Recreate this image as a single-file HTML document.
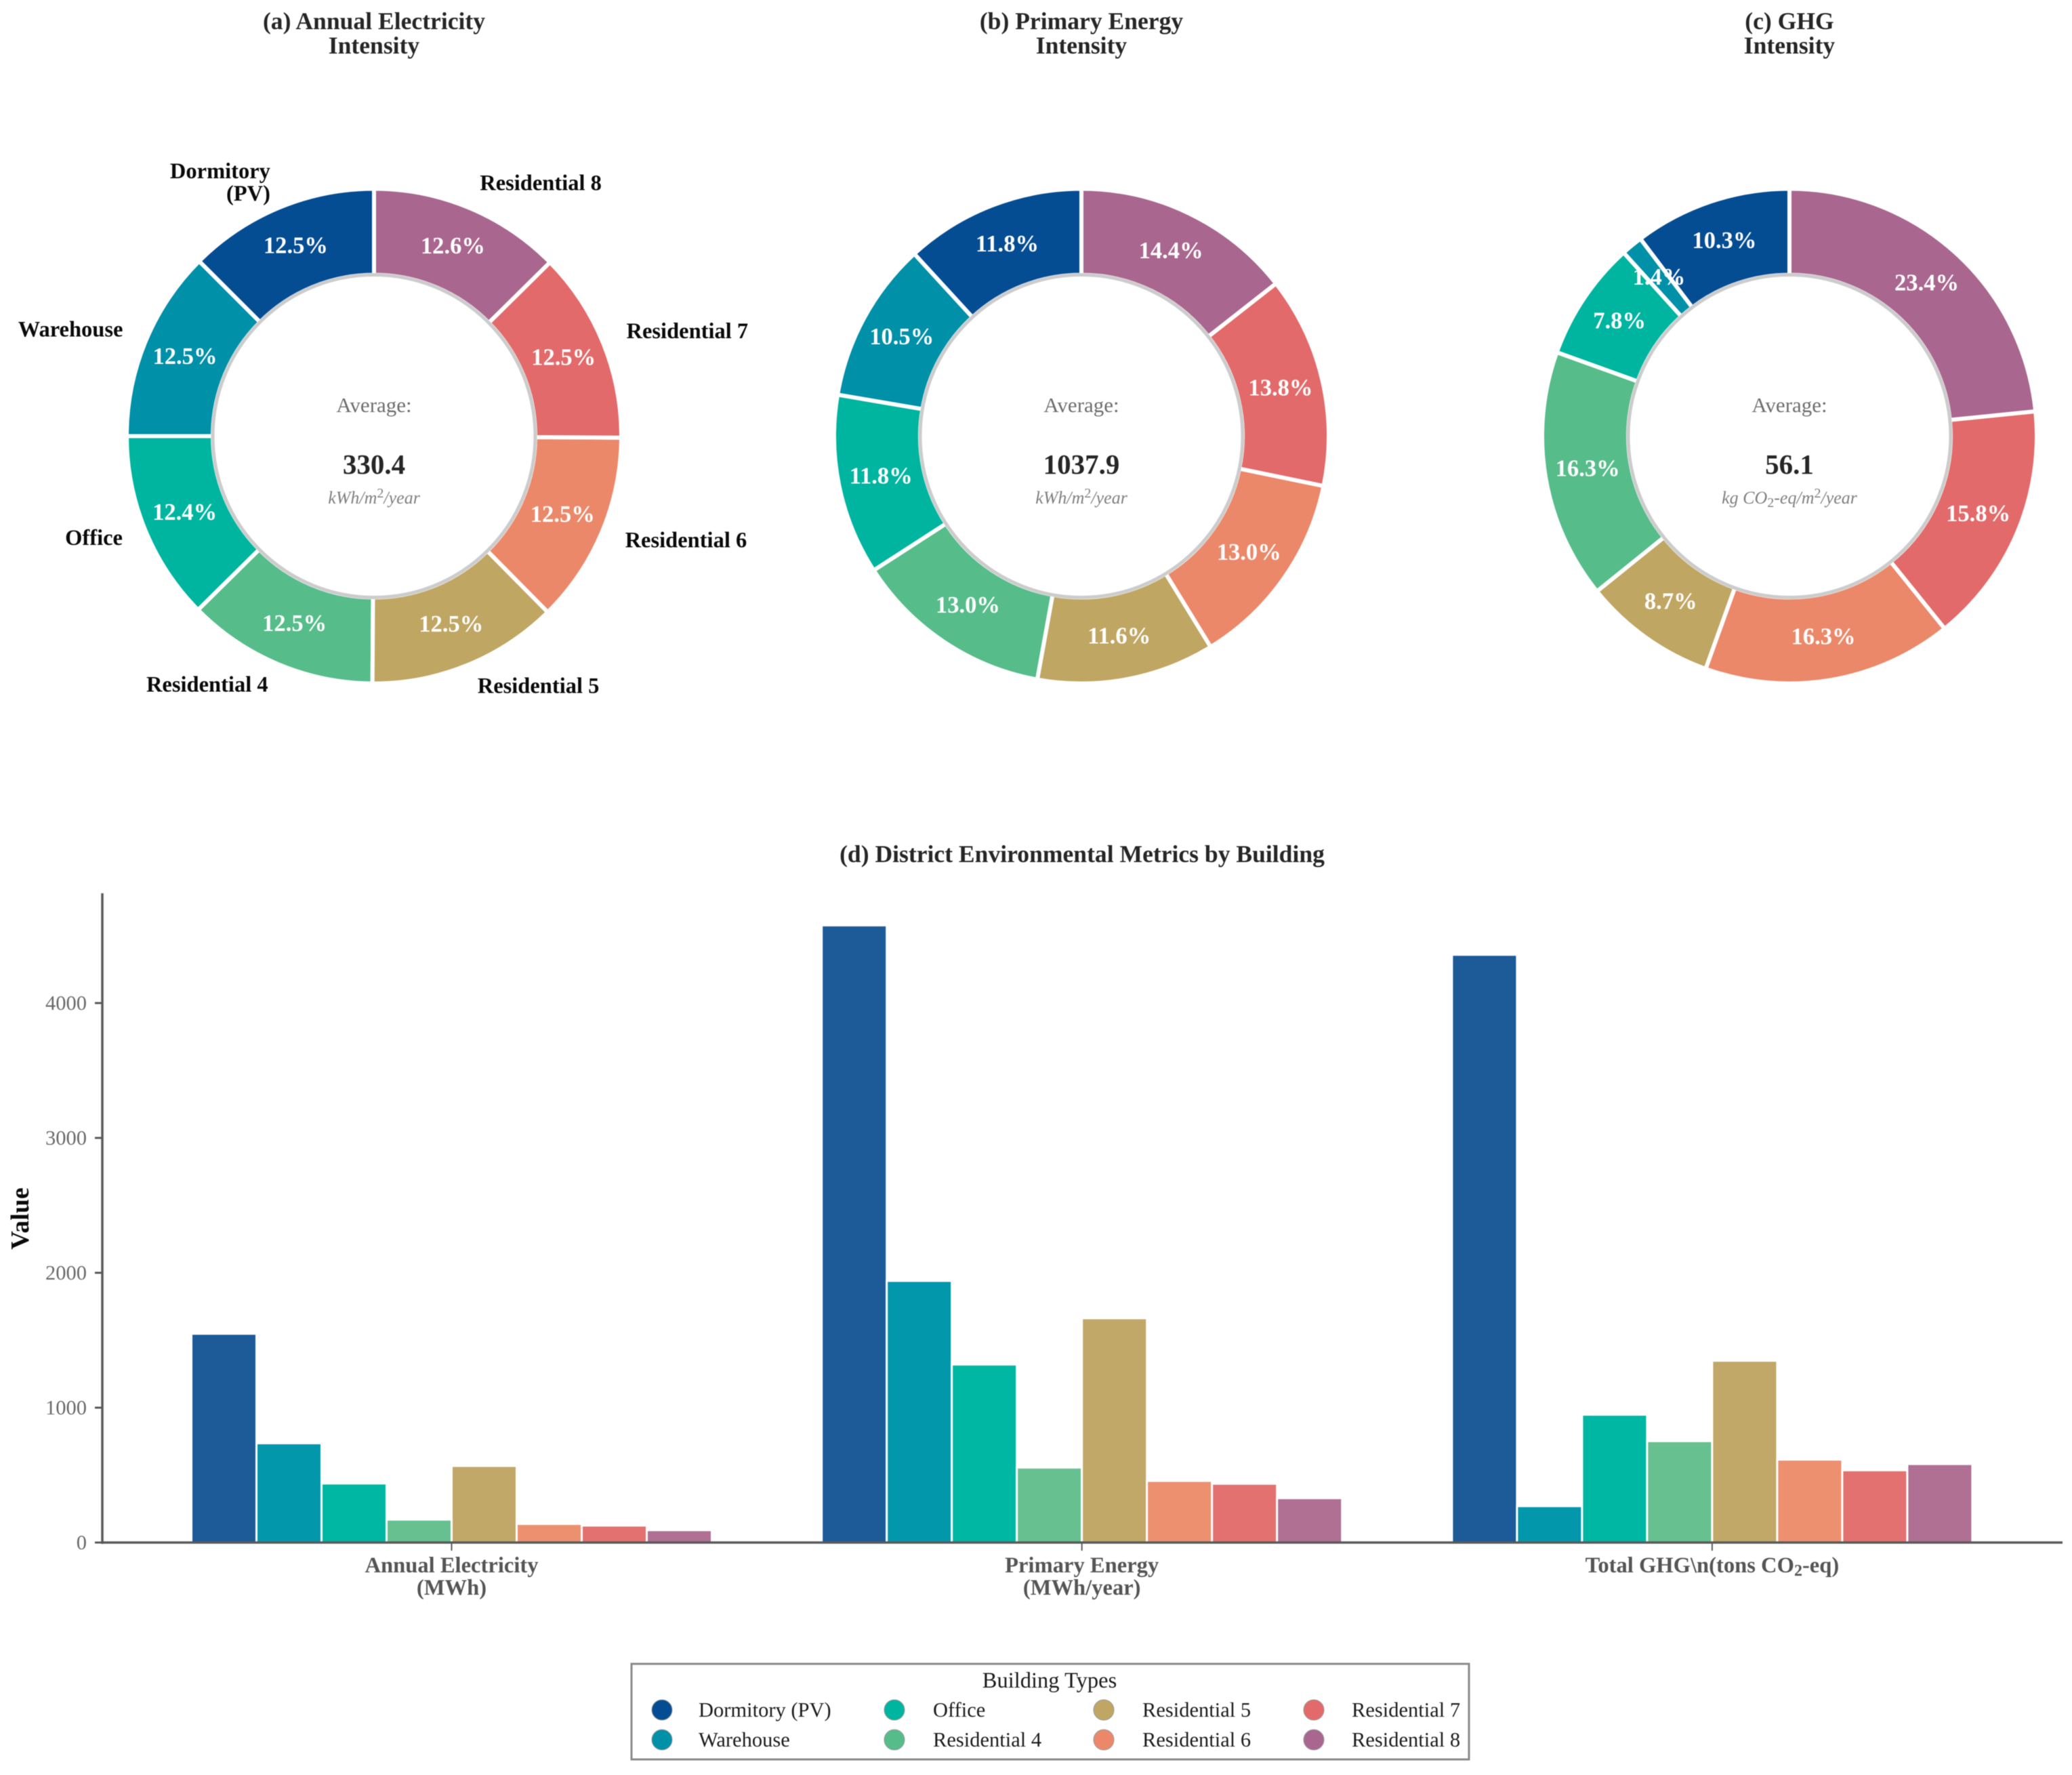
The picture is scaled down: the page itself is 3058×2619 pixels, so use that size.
<!DOCTYPE html>
<html lang="en">
<head>
<meta charset="utf-8">
<title>District Energy and Environmental Metrics</title>
<style>
html,body{margin:0;padding:0;background:#fff;}
svg{display:block;filter:blur(0.6px);}
text{font-family:"Liberation Serif","Times New Roman",serif;}
.panel-title{font-size:35.6px;font-weight:bold;fill:#262626;text-anchor:middle;}
.outer-label{font-size:32.5px;font-weight:bold;fill:#0a0a0a;dominant-baseline:central;}
.pct{font-size:34.6px;font-weight:bold;fill:#fff;text-anchor:middle;dominant-baseline:central;}
.avg-label{font-size:31px;fill:#6e6e6e;text-anchor:middle;}
.avg-value{font-size:41px;font-weight:bold;fill:#262626;text-anchor:middle;}
.avg-unit{font-size:26px;font-style:italic;fill:#808080;text-anchor:middle;}
.y-tick{font-size:30.5px;fill:#6a6a6a;text-anchor:end;dominant-baseline:central;}
.x-tick{font-size:32.6px;font-weight:bold;fill:#555;text-anchor:middle;}
.legend-text{font-size:30.5px;fill:#1c1c1c;dominant-baseline:central;}
</style>
</head>
<body>
<svg id="chart" xmlns="http://www.w3.org/2000/svg" width="3058" height="2619" viewBox="0 0 3058 2619">
  <rect width="3058" height="2619" fill="#ffffff"/>

  <text class="panel-title" x="552" y="43">(a) Annual Electricity<tspan x="552" dy="36">Intensity</tspan></text>
  <text class="panel-title" x="1596" y="43">(b) Primary Energy<tspan x="1596" dy="36">Intensity</tspan></text>
  <text class="panel-title" x="2641" y="43">(c) GHG<tspan x="2641" dy="36">Intensity</tspan></text>

  <g id="donuts"></g>

  <text class="panel-title" x="1597" y="1272">(d) District Environmental Metrics by Building</text>
  <text transform="translate(42,1798) rotate(-90)" text-anchor="middle" font-size="38" font-weight="bold" fill="#0a0a0a">Value</text>

  <g id="bars"></g>

  <g>
    <rect x="932" y="2455" width="1236" height="141" fill="#ffffff" stroke="#8a8a8a" stroke-width="3"/>
    <text x="1549" y="2480" text-anchor="middle" dominant-baseline="central" font-size="32.5" fill="#1c1c1c">Building Types</text>
    <g><circle cx="977" cy="2523" r="15" fill="#054d93" stroke="#999" stroke-width="1"/><text class="legend-text" x="1031" y="2523">Dormitory (PV)</text></g>
    <g><circle cx="977" cy="2567" r="15" fill="#0090a8" stroke="#999" stroke-width="1"/><text class="legend-text" x="1031" y="2567">Warehouse</text></g>
    <g><circle cx="1320" cy="2523" r="15" fill="#00b5a0" stroke="#999" stroke-width="1"/><text class="legend-text" x="1377" y="2523">Office</text></g>
    <g><circle cx="1320" cy="2567" r="15" fill="#56bc8a" stroke="#999" stroke-width="1"/><text class="legend-text" x="1377" y="2567">Residential 4</text></g>
    <g><circle cx="1629" cy="2523" r="15" fill="#c0a663" stroke="#999" stroke-width="1"/><text class="legend-text" x="1686" y="2523">Residential 5</text></g>
    <g><circle cx="1629" cy="2567" r="15" fill="#eb8869" stroke="#999" stroke-width="1"/><text class="legend-text" x="1686" y="2567">Residential 6</text></g>
    <g><circle cx="1939" cy="2523" r="15" fill="#e26a6a" stroke="#999" stroke-width="1"/><text class="legend-text" x="1995" y="2523">Residential 7</text></g>
    <g><circle cx="1939" cy="2567" r="15" fill="#a9678f" stroke="#999" stroke-width="1"/><text class="legend-text" x="1995" y="2567">Residential 8</text></g>
  </g>
</svg>

<script>
// ---------- data ----------
const buildings = ['Dormitory (PV)', 'Warehouse', 'Office', 'Residential 4', 'Residential 5', 'Residential 6', 'Residential 7', 'Residential 8'];
const sliceColors = ['#054d93', '#0090a8', '#00b5a0', '#56bc8a', '#c0a663', '#eb8869', '#e26a6a', '#a9678f'];

const electricityShare = [12.5, 12.5, 12.4, 12.5, 12.5, 12.5, 12.5, 12.6];
const primaryEnergyShare = [11.8, 10.5, 11.8, 13.0, 11.6, 13.0, 13.8, 14.4];
const ghgShare = [10.3, 1.4, 7.8, 16.3, 8.7, 16.3, 15.8, 23.4];

const averageValues = ['330.4', '1037.9', '56.1'];

const metricCategories = ['Annual Electricity (MWh)', 'Primary Energy (MWh/year)', 'Total GHG (tons CO2-eq)'];
const electricityMWh = [1548, 736, 438, 170, 568, 138, 126, 92];
const primaryEnergyMWh = [4576, 1940, 1320, 556, 1663, 457, 436, 329];
const ghgTons = [4358, 270, 948, 752, 1348, 615, 536, 582];

const yTickValues = [0, 1000, 2000, 3000, 4000];

// ---------- helpers ----------
const NS = 'http://www.w3.org/2000/svg';
function make(tag, parent) {
  const el = document.createElementNS(NS, tag);
  parent.appendChild(el);
  return el;
}
function polar(cx, cy, r, deg) {
  const a = deg * Math.PI / 180;
  return [cx - r * Math.sin(a), cy - r * Math.cos(a)];
}

// ---------- donuts ----------
const donutsLayer = document.getElementById('donuts');
const donutCy = 643.5;
const donutOuter = 365;
const donutInner = 238;
const donutLabelR = 302;
const donutNameR = 400;

function drawDonut(cx, shares, showNames) {
  const total = shares.reduce((a, b) => a + b, 0);
  let start = 0;
  const texts = [];
  shares.forEach((share, i) => {
    const sweep = share / total * 360;
    const end = start + sweep;
    const p1 = polar(cx, donutCy, donutOuter, start);
    const p2 = polar(cx, donutCy, donutOuter, end);
    const p3 = polar(cx, donutCy, donutInner, end);
    const p4 = polar(cx, donutCy, donutInner, start);
    const large = sweep > 180 ? 1 : 0;
    const wedge = make('path', donutsLayer);
    
    
    wedge.setAttribute('d', 'M' + p1[0] + ' ' + p1[1] + 'A' + donutOuter + ' ' + donutOuter + ' 0 ' + large + ' 0 ' + p2[0] + ' ' + p2[1] + 'L' + p3[0] + ' ' + p3[1] + 'A' + donutInner + ' ' + donutInner + ' 0 ' + large + ' 1 ' + p4[0] + ' ' + p4[1] + 'Z');
    wedge.setAttribute('fill', sliceColors[i]);
    wedge.setAttribute('stroke', '#ffffff');
    wedge.setAttribute('stroke-width', '6');
    texts.push({ mid: start + sweep / 2, share: share, i: i });
    start = end;
  });
  const hole = make('circle', donutsLayer);
  
  
  hole.setAttribute('cx', cx);
  hole.setAttribute('cy', donutCy);
  hole.setAttribute('r', donutInner);
  hole.setAttribute('fill', '#ffffff');
  hole.setAttribute('stroke', '#cccccc');
  hole.setAttribute('stroke-width', '5');
  texts.forEach(t => {
    const p = polar(cx, donutCy, donutLabelR, t.mid);
    const pct = make('text', donutsLayer);
    
    
    pct.setAttribute('class', 'pct');
    pct.setAttribute('x', p[0]);
    pct.setAttribute('y', p[1] - 2);
    pct.textContent = t.share.toFixed(1) + '%';
    if (showNames) {
      const q = polar(cx, donutCy, donutNameR, t.mid);
      const name = make('text', donutsLayer);
      
      
      name.setAttribute('class', 'outer-label');
      name.setAttribute('text-anchor', t.mid < 180 ? 'end' : 'start');
      name.setAttribute('x', q[0] + (t.mid < 180 ? -1 : 2));
      name.setAttribute('y', q[1] - (t.mid > 90 && t.mid < 270 ? 1.5 : 4));
      if (t.i === 0) {
        const parts = buildings[0].split(' ');
        const a = make('tspan', name);
        a.setAttribute('x', q[0]);
        a.setAttribute('dy', '-17');
        a.textContent = parts[0];
        const b = make('tspan', name);
        b.setAttribute('x', q[0]);
        b.setAttribute('dy', '33');
        b.textContent = parts[1];
      } else {
        name.textContent = buildings[t.i];
      }
    }
  });
}

function drawCenter(cx, value, unitParts) {
  const lab = make('text', donutsLayer);
  
  
  lab.setAttribute('class', 'avg-label');
  lab.setAttribute('x', cx);
  lab.setAttribute('y', 608);
  lab.textContent = 'Average:';
  const val = make('text', donutsLayer);
  
  
  val.setAttribute('class', 'avg-value');
  val.setAttribute('x', cx);
  val.setAttribute('y', 699);
  val.textContent = value;
  const unit = make('text', donutsLayer);
  
  
  unit.setAttribute('class', 'avg-unit');
  unit.setAttribute('x', cx);
  unit.setAttribute('y', 743);
  unitParts.forEach(part => {
    const ts = make('tspan', unit);
    ts.textContent = part[0];
    if (part[1]) {
      ts.setAttribute('dy', part[1]);
    }
    if (part[2]) {
      ts.setAttribute('font-size', part[2]);
      ts.setAttribute('font-style', 'normal');
    }
  });
}

drawDonut(552, electricityShare, true);
drawDonut(1596, primaryEnergyShare, false);
drawDonut(2641, ghgShare, false);

drawCenter(552, averageValues[0], [['kWh/m'], ['2', '-9', '20'], ['/year', '9']]);
drawCenter(1596, averageValues[1], [['kWh/m'], ['2', '-9', '20'], ['/year', '9']]);
drawCenter(2641, averageValues[2], [['kg CO'], ['2', '5', '20'], ['-eq/m', '-5'], ['2', '-9', '20'], ['/year', '9']]);

// ---------- bars ----------
const barsLayer = document.getElementById('bars');
const plotBase = 2276;
const plotLeft = 151;
const plotRight = 3044;
const plotTop = 1318;
const firstGroupCenter = 666.5;
const groupStep = 930.2;
const barStep = 96;
const barColors = ['#1c5a98', '#0297ab', '#00b7a3', '#66c08f', '#c1a868', '#ec9070', '#e3716f', '#b07094'];
const seriesByMetric = [electricityMWh, primaryEnergyMWh, ghgTons];

function yScale(v) { return plotBase - v * 0.199; }
function xScale(group, bar) { return firstGroupCenter + group * groupStep + (bar - buildings.length / 2) * barStep; }

seriesByMetric.forEach((values, g) => {
  values.forEach((v, b) => {
    const r = make('rect', barsLayer);
    
    
    r.setAttribute('x', xScale(g, b));
    r.setAttribute('y', yScale(v));
    r.setAttribute('width', barStep);
    r.setAttribute('height', plotBase - yScale(v));
    r.setAttribute('fill', barColors[b]);
    r.setAttribute('stroke', '#ffffff');
    r.setAttribute('stroke-width', '3');
  });
});

const yAxis = make('line', barsLayer);


yAxis.setAttribute('x1', plotLeft);
yAxis.setAttribute('x2', plotLeft);
yAxis.setAttribute('y1', plotTop);
yAxis.setAttribute('y2', plotBase + 2);
yAxis.setAttribute('stroke', '#5a5a5a');
yAxis.setAttribute('stroke-width', '3.5');

const xAxis = make('line', barsLayer);


xAxis.setAttribute('x1', plotLeft);
xAxis.setAttribute('x2', plotRight);
xAxis.setAttribute('y1', plotBase);
xAxis.setAttribute('y2', plotBase);
xAxis.setAttribute('stroke', '#5a5a5a');
xAxis.setAttribute('stroke-width', '3.5');

yTickValues.forEach(v => {
  const t = make('line', barsLayer);
  
  
  t.setAttribute('x1', plotLeft - 11);
  t.setAttribute('x2', plotLeft);
  t.setAttribute('y1', yScale(v));
  t.setAttribute('y2', yScale(v));
  t.setAttribute('stroke', '#5a5a5a');
  t.setAttribute('stroke-width', '3');
  const l = make('text', barsLayer);
  
  
  l.setAttribute('class', 'y-tick');
  l.setAttribute('x', 128);
  l.setAttribute('y', yScale(v));
  l.textContent = String(v);
});

metricCategories.forEach((c, g) => {
  const cx = xScale(g, buildings.length / 2);
  const t = make('line', barsLayer);
  
  
  t.setAttribute('x1', cx);
  t.setAttribute('x2', cx);
  t.setAttribute('y1', plotBase);
  t.setAttribute('y2', plotBase + 12);
  t.setAttribute('stroke', '#5a5a5a');
  t.setAttribute('stroke-width', '2');
  const l = make('text', barsLayer);
  
  
  l.setAttribute('class', 'x-tick');
  l.setAttribute('x', cx);
  l.setAttribute('y', 2320);
  if (g === 2) {
    const a = make('tspan', l);
    a.textContent = 'Total GHG\\n(tons CO';
    const b = make('tspan', l);
    b.setAttribute('dy', '5');
    b.setAttribute('font-size', '24');
    b.textContent = '2';
    const d = make('tspan', l);
    d.setAttribute('dy', '-5');
    d.textContent = '-eq)';
  } else {
    const split = c.indexOf(' (');
    const a = make('tspan', l);
    a.setAttribute('x', cx);
    a.textContent = c.slice(0, split);
    const b = make('tspan', l);
    b.setAttribute('x', cx);
    b.setAttribute('dy', '33');
    b.textContent = c.slice(split + 1);
  }
});
</script>
</body>
</html>
